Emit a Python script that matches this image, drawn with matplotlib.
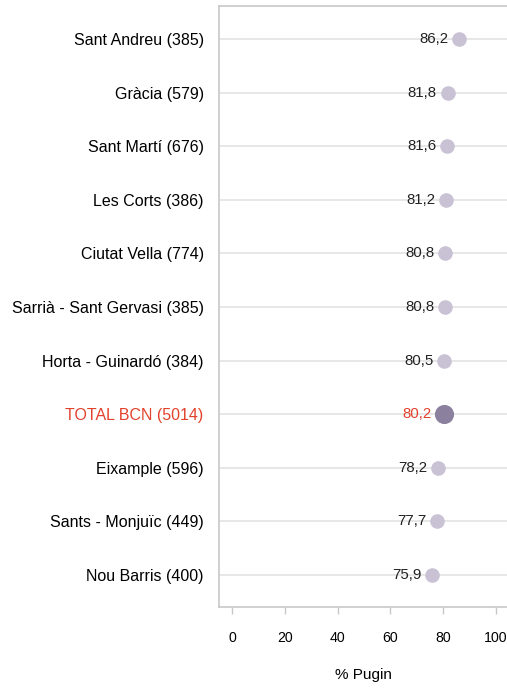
import matplotlib
matplotlib.use("Agg")
import matplotlib.pyplot as plt

districts = [
    "Sant Andreu (385)",
    "Gràcia (579)",
    "Sant Martí (676)",
    "Les Corts (386)",
    "Ciutat Vella (774)",
    "Sarrià - Sant Gervasi (385)",
    "Horta - Guinardó (384)",
    "TOTAL BCN (5014)",
    "Eixample (596)",
    "Sants - Monjuïc (449)",
    "Nou Barris (400)",
]
pugin = [86.2, 81.8, 81.6, 81.2, 80.8, 80.8, 80.5, 80.2, 78.2, 77.7, 75.9]
total_label = "TOTAL BCN (5014)"
x_ticks = [0, 20, 40, 60, 80, 100]

LIGHT = "#c9c1d4"
DARK = "#8b819e"
RED = "#e2412b"
GRID = "#e3e3e3"
SPINE = "#c8c8c8"
FONT = "Liberation Sans"

fig = plt.figure(figsize=(5.07, 6.88), dpi=100)
ax = fig.add_axes([219 / 507, 81 / 688, 288 / 507, 601 / 688])

n = len(districts)
ys = list(range(n))
ax.set_xlim(-4.9, 104.2)
ax.set_ylim(n - 0.4, -0.62)

for y in ys:
    ax.axhline(y, color=GRID, lw=1.2, zorder=0)

for y, name, val in zip(ys, districts, pugin):
    is_total = name == total_label
    ax.scatter(val, y, s=190 if is_total else 110, color=DARK if is_total else LIGHT,
               zorder=3, linewidths=0)
    ax.annotate(f"{val:.1f}".replace(".", ","), (val, y),
                xytext=(-12 if is_total else -11, 0), textcoords="offset pixels",
                ha="right", va="center", fontsize=10.8,
                color=RED if is_total else "#222222", family=FONT)

ax.set_yticks(ys)
ax.set_yticklabels(districts, fontsize=11.5, family=FONT)
for lbl in ax.get_yticklabels():
    if lbl.get_text() == total_label:
        lbl.set_color(RED)
ax.tick_params(axis="y", length=0, pad=11)

ax.set_xticks(x_ticks)
ax.set_xticklabels([str(t) for t in x_ticks], fontsize=10.2, family=FONT)
ax.tick_params(axis="x", length=5, width=1, color=SPINE, pad=12, direction="out")
ax.set_xlabel("% Pugin", fontsize=11, family=FONT, labelpad=17)

for side in ["left", "top", "bottom"]:
    ax.spines[side].set_color(SPINE)
    ax.spines[side].set_linewidth(1.2)
ax.spines["right"].set_visible(False)

fig.savefig("out.png", dpi=100)
